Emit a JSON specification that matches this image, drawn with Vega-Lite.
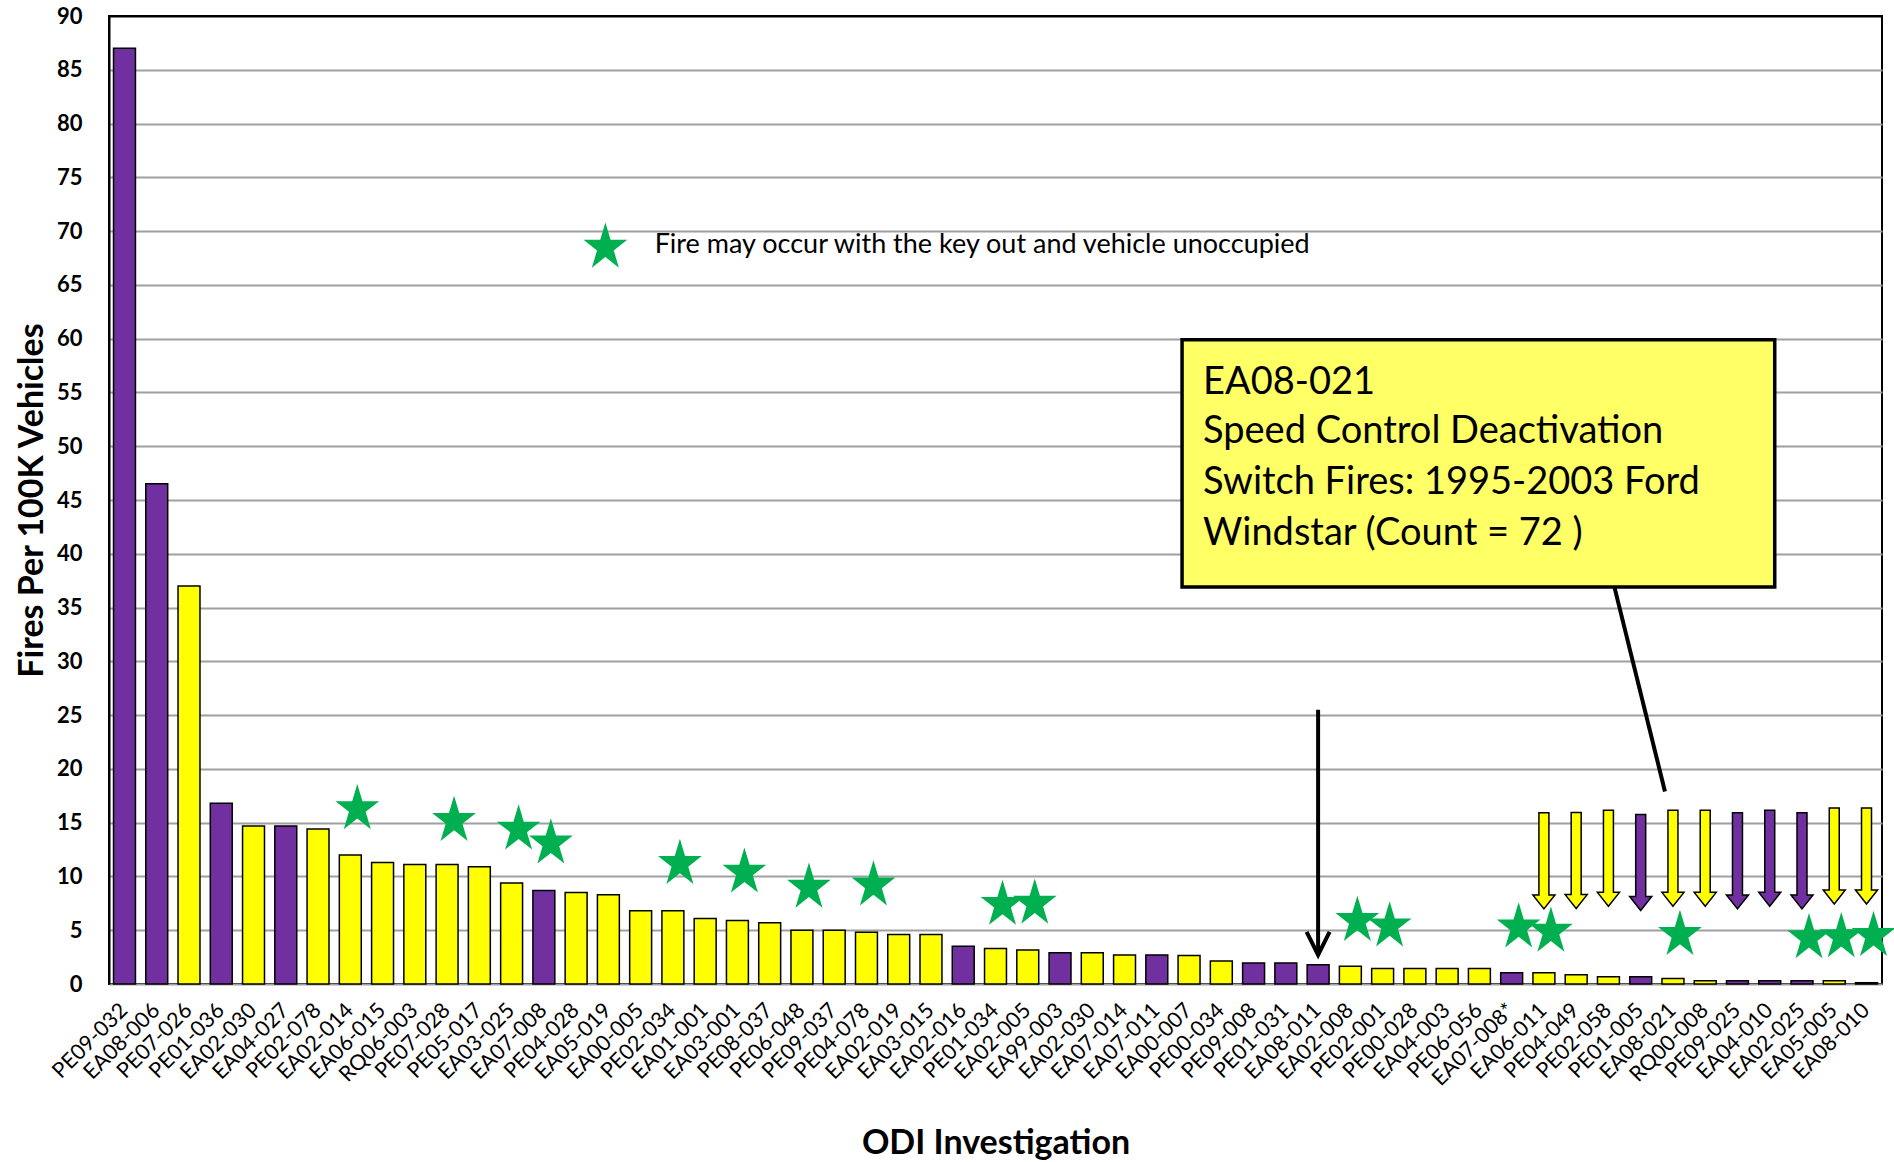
{
  "$schema": "https://vega.github.io/schema/vega-lite/v6.json",
  "width": 1773,
  "height": 968,
  "autosize": "none",
  "padding": {"left": 109, "top": 16, "right": 12, "bottom": 178},
  "background": "white",
  "config": {"view": {"stroke": "black", "strokeWidth": 2}, "font": "Lato"},
  "datasets": {
    "bars": [
      {"key": "PE09-032", "g": "P", "v": 87.0},
      {"key": "EA08-006", "g": "P", "v": 46.5},
      {"key": "PE07-026", "g": "Y", "v": 37.0},
      {"key": "PE01-036", "g": "P", "v": 16.8},
      {"key": "EA02-030", "g": "Y", "v": 14.7},
      {"key": "EA04-027", "g": "P", "v": 14.7},
      {"key": "PE02-078", "g": "Y", "v": 14.4},
      {"key": "EA02-014", "g": "Y", "v": 12.0},
      {"key": "EA06-015", "g": "Y", "v": 11.3},
      {"key": "RQ06-003", "g": "Y", "v": 11.1},
      {"key": "PE07-028", "g": "Y", "v": 11.1},
      {"key": "PE05-017", "g": "Y", "v": 10.9},
      {"key": "EA03-025", "g": "Y", "v": 9.4},
      {"key": "EA07-008", "g": "P", "v": 8.7},
      {"key": "PE04-028", "g": "Y", "v": 8.5},
      {"key": "EA05-019", "g": "Y", "v": 8.3},
      {"key": "EA00-005", "g": "Y", "v": 6.8},
      {"key": "PE02-034", "g": "Y", "v": 6.8},
      {"key": "EA01-001", "g": "Y", "v": 6.1},
      {"key": "EA03-001", "g": "Y", "v": 5.9},
      {"key": "PE08-037", "g": "Y", "v": 5.7},
      {"key": "PE06-048", "g": "Y", "v": 5.0},
      {"key": "PE09-037", "g": "Y", "v": 5.0},
      {"key": "PE04-078", "g": "Y", "v": 4.8},
      {"key": "EA02-019", "g": "Y", "v": 4.6},
      {"key": "EA03-015", "g": "Y", "v": 4.6},
      {"key": "EA02-016", "g": "P", "v": 3.5},
      {"key": "PE01-034", "g": "Y", "v": 3.3},
      {"key": "EA02-005", "g": "Y", "v": 3.15},
      {"key": "EA99-003", "g": "P", "v": 2.9},
      {"key": "EA02-030#2", "g": "Y", "v": 2.9},
      {"key": "EA07-014", "g": "Y", "v": 2.7},
      {"key": "EA07-011", "g": "P", "v": 2.7},
      {"key": "EA00-007", "g": "Y", "v": 2.65},
      {"key": "PE00-034", "g": "Y", "v": 2.15},
      {"key": "PE09-008", "g": "P", "v": 1.95},
      {"key": "PE01-031", "g": "P", "v": 1.95},
      {"key": "EA08-011", "g": "P", "v": 1.8},
      {"key": "EA02-008", "g": "Y", "v": 1.65},
      {"key": "PE02-001", "g": "Y", "v": 1.45},
      {"key": "PE00-028", "g": "Y", "v": 1.45},
      {"key": "EA04-003", "g": "Y", "v": 1.45},
      {"key": "PE06-056", "g": "Y", "v": 1.45},
      {"key": "EA07-008*", "g": "P", "v": 1.05},
      {"key": "EA06-011", "g": "Y", "v": 1.05},
      {"key": "PE04-049", "g": "Y", "v": 0.85},
      {"key": "PE02-058", "g": "Y", "v": 0.68},
      {"key": "PE01-005", "g": "P", "v": 0.68},
      {"key": "EA08-021", "g": "Y", "v": 0.5},
      {"key": "RQ00-008", "g": "Y", "v": 0.3},
      {"key": "PE09-025", "g": "P", "v": 0.3},
      {"key": "EA04-010", "g": "P", "v": 0.3},
      {"key": "EA02-025", "g": "P", "v": 0.3},
      {"key": "EA05-005", "g": "Y", "v": 0.3},
      {"key": "EA08-010", "g": "Y", "v": 0.12}
    ],
    "stars": [
      {"key": "EA02-014", "y": 16.5},
      {"key": "PE07-028", "y": 15.4},
      {"key": "EA03-025", "y": 14.6},
      {"key": "EA07-008", "y": 13.3},
      {"key": "PE02-034", "y": 11.4},
      {"key": "EA03-001", "y": 10.6},
      {"key": "PE06-048", "y": 9.2},
      {"key": "PE04-078", "y": 9.4},
      {"key": "PE01-034", "y": 7.6},
      {"key": "EA02-005", "y": 7.7},
      {"key": "EA02-008", "y": 6.1},
      {"key": "PE02-001", "y": 5.6},
      {"key": "EA07-008*", "y": 5.5},
      {"key": "EA06-011", "y": 5.1},
      {"key": "EA08-021", "y": 4.8},
      {"key": "EA02-025", "y": 4.5},
      {"key": "EA05-005", "y": 4.6},
      {"key": "EA08-010", "y": 4.7}
    ],
    "arrows": [
      {"key": "EA06-011", "g": "Y", "y": 11.45},
      {"key": "PE04-049", "g": "Y", "y": 11.48},
      {"key": "PE02-058", "g": "Y", "y": 11.69},
      {"key": "PE01-005", "g": "P", "y": 11.3},
      {"key": "EA08-021", "g": "Y", "y": 11.69},
      {"key": "RQ00-008", "g": "Y", "y": 11.69},
      {"key": "PE09-025", "g": "P", "y": 11.45},
      {"key": "EA04-010", "g": "P", "y": 11.69},
      {"key": "EA02-025", "g": "P", "y": 11.45},
      {"key": "EA05-005", "g": "Y", "y": 11.9},
      {"key": "EA08-010", "g": "Y", "y": 11.9}
    ],
    "boxtext": [
      {"key": "EA00-007", "line": "EA08-021", "y": 55.9},
      {"key": "EA00-007", "line": "Speed Control Deactivation", "y": 51.3},
      {"key": "EA00-007", "line": "Switch Fires: 1995-2003 Ford", "y": 46.6},
      {"key": "EA00-007", "line": "Windstar (Count = 72 )", "y": 41.8}
    ]
  },
  "encoding": {
    "x": {
      "field": "key",
      "type": "nominal",
      "scale": {
        "domain": ["PE09-032","EA08-006","PE07-026","PE01-036","EA02-030","EA04-027","PE02-078","EA02-014","EA06-015","RQ06-003","PE07-028","PE05-017","EA03-025","EA07-008","PE04-028","EA05-019","EA00-005","PE02-034","EA01-001","EA03-001","PE08-037","PE06-048","PE09-037","PE04-078","EA02-019","EA03-015","EA02-016","PE01-034","EA02-005","EA99-003","EA02-030#2","EA07-014","EA07-011","EA00-007","PE00-034","PE09-008","PE01-031","EA08-011","EA02-008","PE02-001","PE00-028","EA04-003","PE06-056","EA07-008*","EA06-011","PE04-049","PE02-058","PE01-005","EA08-021","RQ00-008","PE09-025","EA04-010","EA02-025","EA05-005","EA08-010"],
        "paddingInner": 0.32,
        "paddingOuter": 0.14
      },
      "axis": {
        "labelAngle": -45,
        "labelAlign": "right",
        "labelBaseline": "middle",
        "labelFontSize": 21.5,
        "labelColor": "black",
        "labelPadding": 23,
        "labelExpr": "split(datum.label, '#')[0]",
        "labelOverlap": false,
        "ticks": false,
        "domain": false,
        "grid": false,
        "title": "ODI Investigation",
        "titleFontSize": 34,
        "titleFontWeight": "bold",
        "titleColor": "black",
        "titleY": 159,
        "titleBaseline": "middle"
      }
    }
  },
  "layer": [
    {
      "data": {"name": "bars"},
      "mark": {"type": "bar", "stroke": "black", "strokeWidth": 1.5},
      "encoding": {
        "y": {
          "field": "v",
          "type": "quantitative",
          "scale": {"domain": [0, 90], "nice": false},
          "axis": {
            "values": [0,5,10,15,20,25,30,35,40,45,50,55,60,65,70,75,80,85,90],
            "labelFontSize": 22,
            "labelFontWeight": "bold",
            "labelColor": "black",
            "labelPadding": 27,
            "ticks": false,
            "domainColor": "black",
            "domainWidth": 2,
            "gridColor": {"condition": {"test": "datum.value === 90", "value": "black"}, "value": "#A0A0A0"},
            "gridWidth": 2,
            "title": "Fires Per 100K Vehicles",
            "titleFontSize": 34,
            "titleFontWeight": "bold",
            "titleColor": "black",
            "titlePadding": 7
          }
        },
        "color": {
          "field": "g",
          "type": "nominal",
          "scale": {"domain": ["P", "Y"], "range": ["#7030A0", "#FFFF00"]},
          "legend": null
        }
      }
    },
    {
      "data": {"name": "stars"},
      "mark": {
        "type": "point",
        "shape": "M 0 -0.9045 L 0.2065 -0.2135 L 0.875 -0.2135 L 0.334 0.2135 L 0.541 0.9045 L 0 0.4775 L -0.541 0.9045 L -0.334 0.2135 L -0.875 -0.2135 L -0.2065 -0.2135 Z",
        "filled": true,
        "fill": "#00B050",
        "opacity": 1,
        "size": 2500,
        "strokeWidth": 0,
        "xOffset": 7
      },
      "encoding": {
        "y": {"field": "y", "type": "quantitative", "scale": {"domain": [0, 90], "nice": false}}
      }
    },
    {
      "data": {"name": "arrows"},
      "mark": {
        "type": "point",
        "shape": "M -0.104 -1 L 0.104 -1 L 0.104 0.71 L 0.23 0.71 L 0 1 L -0.23 0.71 L -0.104 0.71 Z",
        "filled": true,
        "opacity": 1,
        "stroke": "black",
        "strokeWidth": 1.5,
        "size": 9216
      },
      "encoding": {
        "y": {"field": "y", "type": "quantitative", "scale": {"domain": [0, 90], "nice": false}},
        "fill": {
          "field": "g",
          "type": "nominal",
          "scale": {"domain": ["P", "Y"], "range": ["#7030A0", "#FFFF00"]},
          "legend": null
        }
      }
    },
    {
      "data": {"values": [{"key": "EA08-011", "y1": 25.5, "y2": 2.9}]},
      "mark": {"type": "rule", "stroke": "black", "strokeWidth": 4},
      "encoding": {
        "y": {"field": "y1", "type": "quantitative", "scale": {"domain": [0, 90], "nice": false}},
        "y2": {"field": "y2"}
      }
    },
    {
      "data": {"values": [{"key": "EA08-011", "y": 2.7}]},
      "mark": {
        "type": "point",
        "shape": "M -0.5 -1 L 0 0 L 0.5 -1",
        "filled": false,
        "opacity": 1,
        "stroke": "black",
        "strokeWidth": 4,
        "strokeJoin": "miter",
        "size": 2116
      },
      "encoding": {
        "y": {"field": "y", "type": "quantitative", "scale": {"domain": [0, 90], "nice": false}}
      }
    },
    {
      "data": {"values": [{"key": "PE02-058", "key2": "EA08-021", "y1": 36.9, "y2": 17.9}]},
      "mark": {"type": "rule", "stroke": "black", "strokeWidth": 4, "xOffset": 6, "x2Offset": -8},
      "encoding": {
        "x2": {"field": "key2"},
        "y": {"field": "y1", "type": "quantitative", "scale": {"domain": [0, 90], "nice": false}},
        "y2": {"field": "y2"}
      }
    },
    {
      "data": {"values": [{"key": "EA00-007", "key2": "EA04-010", "y1": 59.9, "y2": 36.9}]},
      "mark": {"type": "rect", "fill": "#FFFF66", "stroke": "black", "strokeWidth": 3.5, "xOffset": -7, "x2Offset": 5},
      "encoding": {
        "x2": {"field": "key2"},
        "y": {"field": "y1", "type": "quantitative", "scale": {"domain": [0, 90], "nice": false}},
        "y2": {"field": "y2"}
      }
    },
    {
      "data": {"name": "boxtext"},
      "mark": {"type": "text", "align": "left", "baseline": "middle", "fontSize": 38, "dx": 14, "color": "black"},
      "encoding": {
        "y": {"field": "y", "type": "quantitative", "scale": {"domain": [0, 90], "nice": false}},
        "text": {"field": "line"}
      }
    },
    {
      "data": {"values": [{"key": "EA05-019", "y": 68.7}]},
      "mark": {
        "type": "point",
        "shape": "M 0 -0.9045 L 0.2065 -0.2135 L 0.875 -0.2135 L 0.334 0.2135 L 0.541 0.9045 L 0 0.4775 L -0.541 0.9045 L -0.334 0.2135 L -0.875 -0.2135 L -0.2065 -0.2135 Z",
        "filled": true,
        "fill": "#00B050",
        "opacity": 1,
        "size": 2500,
        "strokeWidth": 0,
        "xOffset": -3
      },
      "encoding": {
        "y": {"field": "y", "type": "quantitative", "scale": {"domain": [0, 90], "nice": false}}
      }
    },
    {
      "data": {"values": [{"key": "EA00-005", "y": 68.7, "t": "Fire may occur with the key out and vehicle unoccupied"}]},
      "mark": {"type": "text", "align": "left", "baseline": "middle", "fontSize": 27, "dx": 14, "color": "black"},
      "encoding": {
        "y": {"field": "y", "type": "quantitative", "scale": {"domain": [0, 90], "nice": false}},
        "text": {"field": "t"}
      }
    }
  ]
}
